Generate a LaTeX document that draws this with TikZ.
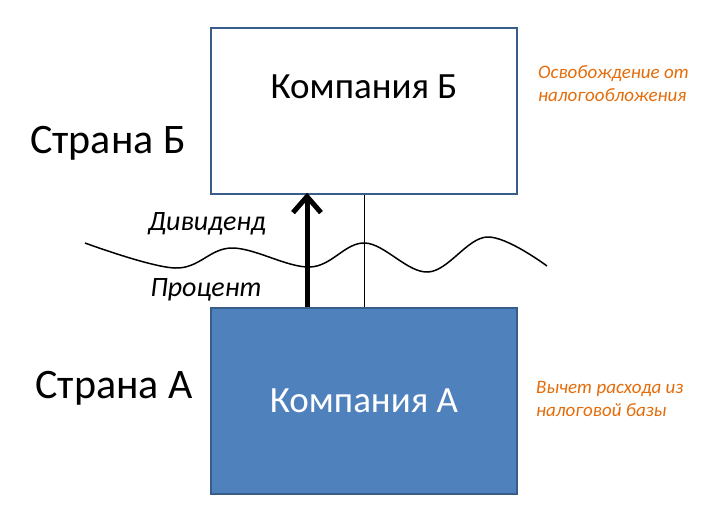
\documentclass[tikz,border=0pt]{standalone}
\usepackage{fontspec}
\setmainfont{Carlito}
\usetikzlibrary{arrows.meta}
\definecolor{boxfill}{HTML}{4F81BD}
\definecolor{boxline}{HTML}{385D8A}
\definecolor{note}{HTML}{E46C0A}
\begin{document}
\begin{tikzpicture}[x=1pt,y=-1pt,
  compbox/.style={draw=boxline,line width=1.6pt,minimum width=306pt,minimum height=166pt,inner sep=0pt,font=\fontsize{37}{44}\selectfont},
  country/.style={font=\fontsize{42}{48}\selectfont,inner sep=0pt},
  flowlabel/.style={font=\itshape\fontsize{28}{32}\selectfont,inner sep=0pt},
  notetext/.style={font=\itshape\fontsize{19}{23}\selectfont,text=note,align=left,inner sep=0pt}]
\useasboundingbox (0,0) rectangle (709,507);
\node[compbox,fill=white,text height=27pt,text depth=52pt] (B) at (364,111) {Компания Б};
\node[compbox,fill=boxfill,text=white,minimum height=186pt] (A) at (364,401) {Компания А};
\node[country] (cB) at (108,143) {Страна Б};
\node[country] (cA) at (114,388) {Страна А};
\node[flowlabel] (div) at (207,224) {Дивиденд};
\node[flowlabel] (pro) at (206,290) {Процент};
\node[notetext,anchor=west] (n1) at (538,84) {Освобождение от\\налогообложения};
\node[notetext,anchor=west] (n2) at (536,399) {Вычет расхода из\\налоговой базы};
\draw[line width=5pt,-{Straight Barb[length=16pt,width=28pt,line width=5pt]}] ([xshift=-57pt]A.north) -- ([xshift=-57pt,yshift=2pt]B.south);
\draw[line width=0.8pt] (A.north) -- (B.south);
\draw[line width=1.5pt] plot[smooth,tension=0.6] coordinates {(85,243) (175,268) (232,248) (310,267) (365,243) (428,272) (487,237) (547,266)};
\end{tikzpicture}
\end{document}
